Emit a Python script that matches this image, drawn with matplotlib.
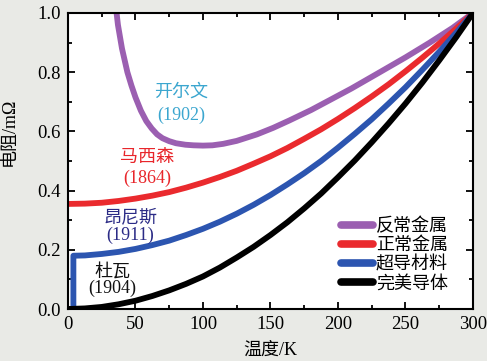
import matplotlib

matplotlib.use("Agg")
import matplotlib.pyplot as plt
from matplotlib.ticker import MultipleLocator

plt.rcParams["font.family"] = ["Liberation Serif", "Noto Sans CJK SC"]

# 完美导体 (杜瓦)
t_perfect = [0, 12.5, 25, 37.5, 50, 62.5, 75, 87.5, 100, 112.5, 125, 137.5, 150,
             162.5, 175, 187.5, 200, 212.5, 225, 237.5, 250, 262.5, 275, 287.5, 300]
r_perfect = [0, 0.002, 0.007, 0.016, 0.028, 0.044, 0.063, 0.085, 0.11, 0.14, 0.174, 0.21, 0.25,
             0.293, 0.34, 0.39, 0.445, 0.502, 0.563, 0.627, 0.694, 0.765, 0.84, 0.918, 1.0]

# 超导材料 (昂尼斯)
t_super = [0, 4, 4, 12.5, 25, 37.5, 50, 62.5, 75, 87.5, 100, 112.5, 125, 137.5, 150,
           162.5, 175, 187.5, 200, 212.5, 225, 237.5, 250, 262.5, 275, 287.5, 300]
r_super = [0, 0, 0.18, 0.181, 0.186, 0.193, 0.203, 0.216, 0.231, 0.25, 0.271, 0.295, 0.322, 0.352, 0.385,
           0.421, 0.459, 0.5, 0.545, 0.592, 0.641, 0.694, 0.749, 0.808, 0.869, 0.933, 1.0]

# 正常金属 (马西森)
t_normal = [0, 12.5, 25, 37.5, 50, 62.5, 75, 87.5, 100, 112.5, 125, 137.5, 150,
            162.5, 175, 187.5, 200, 212.5, 225, 237.5, 250, 262.5, 275, 287.5, 300]
r_normal = [0.355, 0.356, 0.359, 0.365, 0.373, 0.383, 0.395, 0.41, 0.427, 0.446, 0.467, 0.491, 0.516,
            0.544, 0.575, 0.607, 0.642, 0.679, 0.718, 0.759, 0.803, 0.849, 0.897, 0.947, 1.0]

# 反常金属 (开尔文)
t_anom = [36, 37, 38.5, 40, 42, 44, 47, 50, 54, 58, 62, 66, 70, 75, 80, 87, 93, 100, 107,
          115, 125, 140, 152, 164, 180, 194, 210, 231, 250, 268, 285, 300]
r_anom = [1.0, 0.96, 0.92, 0.88, 0.84, 0.8, 0.755, 0.715, 0.67, 0.635, 0.61, 0.59, 0.577, 0.567, 0.56,
          0.555, 0.553, 0.552, 0.553, 0.558, 0.568, 0.59, 0.612, 0.637, 0.672, 0.706, 0.745, 0.80,
          0.85, 0.90, 0.95, 1.0]

series = [
    ("反常金属", t_anom, r_anom, "#9b5fb1"),
    ("正常金属", t_normal, r_normal, "#ea2a2e"),
    ("超导材料", t_super, r_super, "#2c55b0"),
    ("完美导体", t_perfect, r_perfect, "#000000"),
]

# 注释: 名字, 年份, 位置, 颜色
notes = [
    ("开尔文", "(1902)", 84, 0.733, 0.655, "#3ba6cf"),
    ("马西森", "(1864)", 58.5, 0.513, 0.442, "#e8262b"),
    ("昂尼斯", "(1911)", 46, 0.307, 0.25, "#2b2b86"),
    ("杜瓦", "(1904)", 33, 0.125, 0.071, "#111111"),
]

fig = plt.figure(figsize=(4.87, 3.61), dpi=100, facecolor="#e9eae6")
ax = fig.add_axes([0.1396, 0.144, 0.8316, 0.82])
ax.set_facecolor("white")

for label, t, r, c in series:
    ax.plot(t, r, color=c, lw=4.2, label=label, solid_capstyle="butt", solid_joinstyle="round")

for name, year, x, y1, y2, c in notes:
    ax.text(x, y1, name, color=c, fontsize=13, ha="center", va="center")
    ax.text(x, y2, year, color=c, fontsize=13, ha="center", va="center")

ax.set_xlim(0, 300)
ax.set_ylim(0, 1.0)
ax.xaxis.set_major_locator(MultipleLocator(50))
ax.xaxis.set_minor_locator(MultipleLocator(25))
ax.yaxis.set_major_locator(MultipleLocator(0.2))
ax.yaxis.set_minor_locator(MultipleLocator(0.1))
ax.tick_params(which="both", direction="in", top=True, right=True, width=1.3, labelsize=13.5)
ax.tick_params(which="major", length=5, pad=5)
ax.tick_params(which="minor", length=3)
ax.set_yticks([0, 0.2, 0.4, 0.6, 0.8, 1.0], ["0.0", "0.2", "0.4", "0.6", "0.8", "1.0"])
for s in ax.spines.values():
    s.set_linewidth(1.5)

ax.set_xlabel("温度/K", fontsize=13, labelpad=6)
ax.set_ylabel("电阻/mΩ", fontsize=13)
ax.yaxis.set_label_coords(-0.123, 0.598)

leg = ax.legend(loc="lower right", bbox_to_anchor=(0.96, 0.025), frameon=False,
                fontsize=13, handlelength=1.8, handletextpad=0.15, labelspacing=0.12,
                borderpad=0)
for line in leg.get_lines():
    line.set_linewidth(5.5)
    line.set_solid_capstyle("round")

fig.savefig("out.png", dpi=100, facecolor=fig.get_facecolor())
